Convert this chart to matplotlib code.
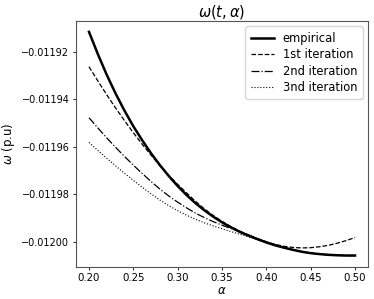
import numpy as np
from matplotlib import pyplot as plt

# alpha grid
alpha = [0.20, 0.21, 0.22, 0.23, 0.24, 0.25, 0.26, 0.27, 0.28, 0.29, 0.30,
         0.31, 0.32, 0.33, 0.34, 0.35, 0.36, 0.37, 0.38, 0.39, 0.40,
         0.41, 0.42, 0.43, 0.44, 0.45, 0.46, 0.47, 0.48, 0.49, 0.50]

# omega values (p.u)
empirical = [-0.0119116, -0.0119210, -0.0119297, -0.0119376, -0.0119448, -0.0119514,
             -0.0119573, -0.0119628, -0.0119678, -0.0119724, -0.0119766,
             -0.0119804, -0.0119838, -0.0119868, -0.0119895, -0.0119919,
             -0.0119940, -0.0119959, -0.0119975, -0.0119990, -0.0120004,
             -0.0120016, -0.0120026, -0.0120035, -0.0120043, -0.0120049,
             -0.0120053, -0.0120056, -0.0120058, -0.0120059, -0.0120059]
iter1 = [-0.0119263, -0.0119323, -0.0119381, -0.0119437, -0.0119490, -0.0119541,
         -0.0119590, -0.0119636, -0.0119680, -0.0119721, -0.0119759,
         -0.0119795, -0.0119830, -0.0119862, -0.0119890, -0.0119915,
         -0.0119937, -0.0119956, -0.0119973, -0.0119988, -0.0120001,
         -0.0120012, -0.0120020, -0.0120025, -0.0120027, -0.0120026,
         -0.0120022, -0.0120016, -0.0120007, -0.0119996, -0.0119983]
iter2 = [-0.0119478, -0.0119521, -0.0119563, -0.0119603, -0.0119641, -0.0119678,
         -0.0119713, -0.0119747, -0.0119779, -0.0119808, -0.0119834,
         -0.0119858, -0.0119880, -0.0119899, -0.0119916, -0.0119931,
         -0.0119945, -0.0119959, -0.0119973, -0.0119988, -0.0120002,
         -0.0120016, -0.0120026, -0.0120035, -0.0120043, -0.0120049,
         -0.0120053, -0.0120056, -0.0120058, -0.0120059, -0.0120059]
iter3 = [-0.0119582, -0.0119616, -0.0119649, -0.0119681, -0.0119712, -0.0119742,
         -0.0119771, -0.0119799, -0.0119825, -0.0119849, -0.0119870,
         -0.0119889, -0.0119906, -0.0119921, -0.0119934, -0.0119946,
         -0.0119958, -0.0119969, -0.0119981, -0.0119992, -0.0120003,
         -0.0120016, -0.0120026, -0.0120035, -0.0120043, -0.0120049,
         -0.0120053, -0.0120056, -0.0120058, -0.0120059, -0.0120059]

fig = plt.figure(figsize=(3.74, 2.99), dpi=100)
ax = fig.add_axes([0.2024, 0.108, 0.7824, 0.8228])

ax.plot(alpha, empirical, color='black', lw=1.8, label='empirical')
ax.plot(alpha, iter1, color='black', lw=0.9, ls='--', label='1st iteration')
ax.plot(alpha, iter2, color='black', lw=0.9, ls='-.', label='2nd iteration')
ax.plot(alpha, iter3, color='black', lw=0.8, ls=':', label='3nd iteration')

ax.set_xticks([0.20, 0.25, 0.30, 0.35, 0.40, 0.45, 0.50])
ax.set_yticks([-0.01192, -0.01194, -0.01196, -0.01198, -0.01200])
ax.xaxis.set_major_formatter(plt.FormatStrFormatter('%.2f'))
ax.yaxis.set_major_formatter(plt.FuncFormatter(lambda v, p: ('%.5f' % v).replace('-', '\u2212')))
ax.tick_params(labelsize=7.0, length=2.5, width=0.6, pad=2)
ax.tick_params(axis='x', labelsize=7.4)
for s in ax.spines.values():
    s.set_linewidth(0.8)
    s.set_color('#555555')

ax.set_title(r'$\omega(t,\alpha)$', fontsize=10.5, pad=3)
ax.set_xlabel(r'$\alpha$', fontsize=8.5, labelpad=1)
ax.set_ylabel(r'$\omega$ (p.u)', fontsize=8.5, labelpad=3)
ax.legend(loc='upper right', fontsize=8.3, handlelength=2.0, labelspacing=0.3,
          borderpad=0.45, handletextpad=0.8)

fig.savefig('out.png', dpi=100)
